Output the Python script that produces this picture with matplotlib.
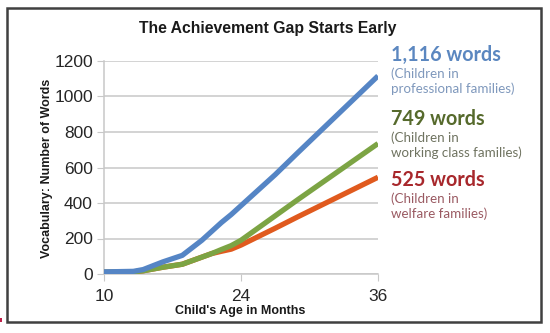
import matplotlib
matplotlib.use("Agg")
import matplotlib.pyplot as plt
import numpy as np
from matplotlib.patches import Rectangle

# ---- data ----
months = [10, 13, 14, 16, 18, 20, 21, 22, 23, 24, 27, 29, 36]
professional = [12, 15, 25, 68, 105, 190, 240, 290, 335, 385, 560, 685, 1116]
working_class = [10, 12, 18, 38, 55, 95, 115, 138, 160, 190, 328, 420, 735]
welfare = [10, 12, 18, 38, 55, 95, 115, 128, 140, 163, 258, 323, 545]
x_ticks = [10, 24, 36]
y_ticks = [0, 200, 400, 600, 800, 1000, 1200]

labels = [
    ("1,116 words", "(Children in\nprofessional families)", "#5B87C0", "#7F98BC"),
    ("749 words", "(Children in\nworking class families)", "#566A2C", "#6F7360"),
    ("525 words", "(Children in\nwelfare families)", "#A8282C", "#9A5A62"),
]

W, H = 550, 333
fig = plt.figure(figsize=(W / 100, H / 100), dpi=100)
fig.patch.set_facecolor("white")

# outer frame
fig.add_artist(Rectangle((7 / W, 1 - 322 / H), (541 - 7) / W, (322 - 8) / H,
                         transform=fig.transFigure, fill=False,
                         edgecolor="#404040", linewidth=1.8))
fig.add_artist(Rectangle((0, 1 - 322 / H), 2 / W, 4 / H, transform=fig.transFigure,
                         color="#C0204A", linewidth=0))

ax = fig.add_axes([104 / W, 1 - 274 / H, (378 - 104) / W, (274 - 61) / H])

# piecewise-linear category-like x scale: 10, 24, 36 equally spaced
def fwd(x):
    return np.interp(x, x_ticks, [0, 1, 2], left=None, right=None)

def inv(p):
    return np.interp(p, [0, 1, 2], x_ticks)

ax.set_xscale("function", functions=(fwd, inv))

ax.plot(months, welfare, color="#E05A1E", lw=3.8, solid_capstyle="butt", zorder=3)
ax.plot(months, working_class, color="#7CA444", lw=3.8, solid_capstyle="butt", zorder=4)
ax.plot(months, professional, color="#5585C5", lw=3.8, solid_capstyle="butt", zorder=5)

ax.set_xlim(10, 36)
ax.set_ylim(0, 1200)
ax.set_yticks(y_ticks)
ax.set_xticks(x_ticks)
ax.set_yticklabels([str(v) for v in y_ticks], family="Liberation Sans", fontsize=12.5,
                   color="#262626")
ax.set_xticklabels([str(v) for v in x_ticks], family="Liberation Sans", fontsize=12.5,
                   color="#262626")
ax.grid(axis="y", color="#C8C8C8", lw=1.1)
ax.set_axisbelow(True)
for s in ["top", "right"]:
    ax.spines[s].set_visible(False)
for s in ["left", "bottom"]:
    ax.spines[s].set_color("#C8C8C8")
    ax.spines[s].set_linewidth(1.1)
ax.tick_params(axis="y", length=5, color="#C8C8C8", pad=3)
ax.tick_params(axis="x", length=5, color="#C8C8C8", pad=6)

fig.text(268 / W, 1 - 28 / H, "The Achievement Gap Starts Early", ha="center",
         va="center", family="Liberation Sans", weight="bold", fontsize=11.3,
         color="#1A1A1A")
fig.text(47 / W, 1 - 168 / H, "Vocabulary: Number of Words", ha="center", va="center",
         rotation=90, family="Liberation Sans", weight="bold", fontsize=9,
         color="#1A1A1A")
fig.text(240 / W, 1 - 311 / H, "Child's Age in Months", ha="center", va="center",
         family="Liberation Sans", weight="bold", fontsize=9, color="#1A1A1A")

heads_y = [55, 119, 180]
for (head, sub, hc, sc), hy in zip(labels, heads_y):
    fig.text(391 / W, 1 - hy / H, head, ha="left", va="center", family="Lato",
             weight="bold", fontsize=14.2, color=hc)
    fig.text(391 / W, 1 - (hy + 12) / H, sub, ha="left", va="top", family="Lato",
             fontsize=9.6, color=sc, linespacing=1.3)

fig.savefig("out.png", dpi=100, facecolor="white")
